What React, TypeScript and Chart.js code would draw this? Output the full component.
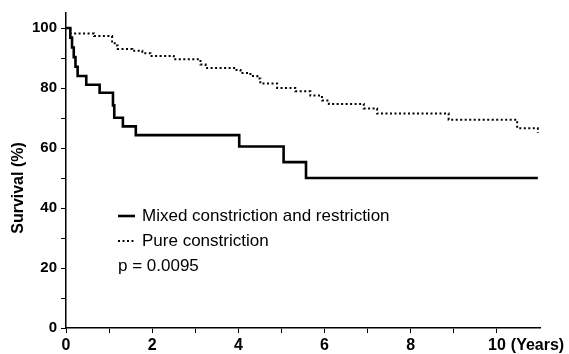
import React, { useEffect, useRef } from "react";
import { Chart, registerables } from "chart.js";

Chart.register(...registerables);

// Kaplan-Meier step data (years, survival %)
const mixedTimes = [0, 0.1, 0.14, 0.18, 0.22, 0.27, 0.47, 0.78, 1.09, 1.12, 1.32, 1.62, 4.02, 5.05, 5.57, 10.95];
const mixedSurvival = [100, 96.8, 93.5, 90.3, 87.1, 84.0, 81.1, 78.4, 74.2, 70.1, 67.2, 64.3, 60.5, 55.3, 50, 50];

const pureTimes = [0, 0.1, 0.65, 1.07, 1.13, 1.2, 1.54, 1.77, 1.96, 2.5, 3.12, 3.24, 3.93, 4.05, 4.28, 4.44, 4.51, 4.9, 5.32, 5.67, 5.94, 6.1, 6.91, 7.22, 8.88, 10.47, 10.95];
const pureSurvival = [100, 98.2, 97.3, 95.5, 94.2, 93.0, 92.4, 91.6, 90.7, 89.6, 87.8, 86.7, 86.0, 85.0, 84.0, 83.2, 81.5, 80.0, 78.9, 77.5, 75.8, 74.7, 73.2, 71.5, 69.4, 66.6, 65.0];

const seriesLabels = ["Mixed constriction and restriction", "Pure constriction"];
const pValueText = "p = 0.0095";
const yAxisTitle = "Survival (%)";
const xUnitLabel = "(Years)";
const xLabelValues = [0, 2, 4, 6, 8, 10];
const yLabelValues = [0, 20, 40, 60, 80, 100];

const FONT = '"Liberation Sans", Arial, sans-serif';

const annotPlugin = {
  id: "annot",
  afterDraw(chart: any) {
    const ctx = chart.ctx;
    const xs = chart.scales.x;
    const area = chart.chartArea;
    ctx.save();
    ctx.fillStyle = "#000";
    // (Years) after the "10" tick label
    ctx.font = `bold 16px ${FONT}`;
    ctx.textBaseline = "middle";
    ctx.textAlign = "left";
    const x10 = xs.getPixelForValue(10);
    const w10 = ctx.measureText("10").width;
    ctx.fillText(xUnitLabel, x10 + w10 / 2 + 5, area.bottom + 5 + 3 + 9.6);

    // Y axis title
    ctx.save();
    ctx.font = `bold 16px ${FONT}`;
    ctx.textAlign = "center";
    ctx.translate(19, 188);
    ctx.rotate(-Math.PI / 2);
    ctx.fillText(yAxisTitle, 0, 0);
    ctx.restore();

    // Legend
    const lx = 118;
    const lw = 17;
    const tx = 142;
    const rows = [216, 241];
    ctx.font = `17px ${FONT}`;
    ctx.textAlign = "left";
    chart.data.datasets.forEach((ds: any, i: number) => {
      const y = rows[i];
      ctx.beginPath();
      ctx.strokeStyle = "#000";
      ctx.lineWidth = ds.borderWidth;
      ctx.setLineDash(ds.borderDash || []);
      ctx.moveTo(lx, y);
      ctx.lineTo(lx + lw, y);
      ctx.stroke();
      ctx.setLineDash([]);
      ctx.fillText(ds.label, tx, y);
    });
    ctx.fillText(pValueText, lx, 266);
    ctx.restore();
  },
};

export default function App() {
  const ref = useRef<HTMLCanvasElement | null>(null);
  useEffect(() => {
    if (!ref.current) return;
    const chart = new Chart(ref.current, {
      type: "line",
      data: {
        datasets: [
          {
            label: seriesLabels[0],
            data: mixedTimes.map((t, i) => ({ x: t, y: mixedSurvival[i] })),
            borderColor: "#000",
            borderWidth: 2.6,
            stepped: true,
            pointRadius: 0,
            fill: false,
          },
          {
            label: seriesLabels[1],
            data: pureTimes.map((t, i) => ({ x: t, y: pureSurvival[i] })),
            borderColor: "#000",
            borderWidth: 2,
            borderDash: [2, 2.5],
            stepped: true,
            pointRadius: 0,
            fill: false,
          },
        ],
      },
      options: {
        animation: false,
        responsive: true,
        maintainAspectRatio: false,
        layout: { padding: { top: 9, right: 29, left: 0, bottom: 0 } },
        plugins: { legend: { display: false }, tooltip: { enabled: false } },
        scales: {
          x: {
            type: "linear",
            min: 0,
            max: 11,
            afterBuildTicks: (s: any) => {
              s.ticks = s.ticks.filter((t: any) => t.value <= 10);
            },
            afterFit: (s: any) => {
              s.height = 26;
            },
            ticks: {
              stepSize: 1,
              includeBounds: false,
              autoSkip: false,
              maxRotation: 0,
              padding: 3,
              color: "#000",
              font: { family: FONT, size: 16, weight: "bold" },
              callback: (v: any) => (xLabelValues.includes(Number(v)) ? String(v) : ""),
            },
            grid: { drawOnChartArea: false, drawTicks: true, tickLength: 5, color: "#000", lineWidth: 1 },
            border: { color: "#000", width: 1.5 },
          },
          y: {
            type: "linear",
            min: 0,
            max: 105,
            afterBuildTicks: (s: any) => {
              s.ticks = s.ticks.filter((t: any) => t.value <= 100);
            },
            afterFit: (s: any) => {
              s.width = 66;
            },
            ticks: {
              stepSize: 10,
              includeBounds: false,
              autoSkip: false,
              padding: 4,
              color: "#000",
              font: { family: FONT, size: 15, weight: "bold" },
              callback: (v: any) => (yLabelValues.includes(Number(v)) ? String(v) : ""),
            },
            grid: { drawOnChartArea: false, drawTicks: true, tickLength: 5, color: "#000", lineWidth: 1 },
            border: { color: "#000", width: 1.5 },
          },
        },
      },
      plugins: [annotPlugin],
    });
    return () => chart.destroy();
  }, []);
  return (
    <div style={{ position: "fixed", left: 0, top: 0, width: 569, height: 354, background: "#fff" }}>
      <canvas ref={ref} />
    </div>
  );
}
